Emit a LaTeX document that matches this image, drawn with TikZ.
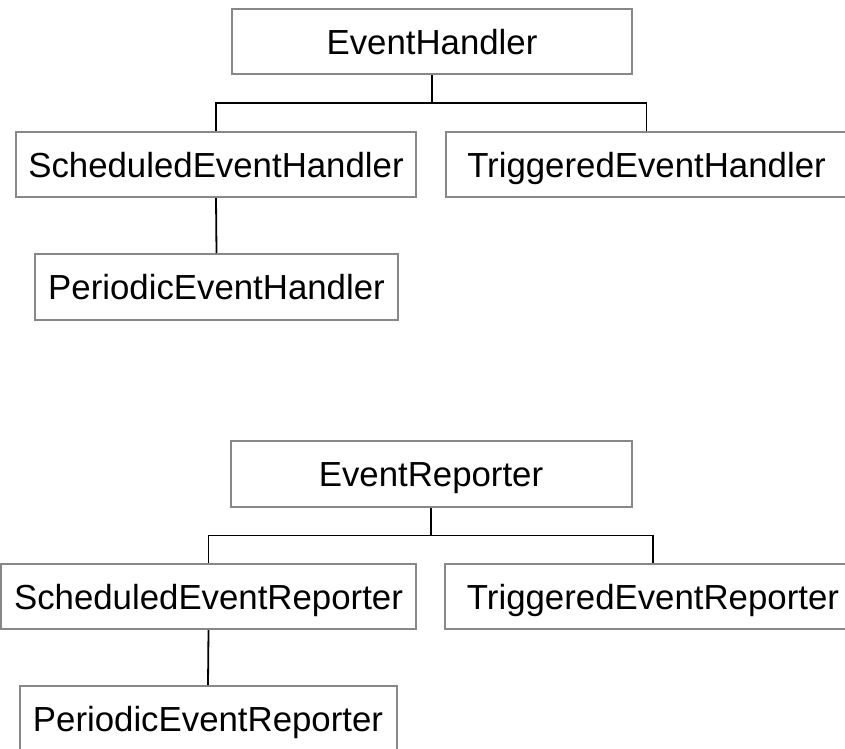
\documentclass[tikz,border=0pt]{standalone}
\usepackage{fontspec}
\setmainfont{Liberation Sans}
\definecolor{boxgray}{HTML}{888888}
\begin{document}
\begin{tikzpicture}[x=1pt,y=-1pt,
  classbox/.style={draw=boxgray, line width=2pt, inner sep=0pt,
    minimum height=65pt, text height=25pt, text depth=0pt,
    font=\fontsize{34.8pt}{40pt}\selectfont},
  link/.style={draw=black, line width=1.8pt}]
\useasboundingbox (0,0) rectangle (845,748);

% handler hierarchy
\node[classbox, minimum width=400pt] (eh)  at (432,41.5)   {EventHandler};
\node[classbox, minimum width=400pt] (seh) at (216,164.5)  {ScheduledEventHandler};
\node[classbox, minimum width=401pt] (teh) at (646.5,164.5){TriggeredEventHandler};
\node[classbox, minimum width=363pt, minimum height=66pt] (peh) at (216.5,287) {PeriodicEventHandler};

\coordinate (jh) at (432,103);
\draw[link] (eh.south) -- (jh);
\draw[link] (seh.north) |- (jh) -| (teh.north);
\draw[link] (seh.south) -- (peh.north);

% reporter hierarchy
\node[classbox, minimum width=401pt, minimum height=66pt] (er) at (431,474) {EventReporter};
\node[classbox, minimum width=415pt] (ser) at (208.5,596.5) {ScheduledEventReporter};
\node[classbox, minimum width=416pt] (ter) at (653,596.5)   {TriggeredEventReporter};
\node[classbox, minimum width=377pt] (per) at (208,718.5)   {PeriodicEventReporter};

\coordinate (jr) at (431,535.5);
\draw[link] (er.south) -- (jr);
\draw[link] (ser.north) |- (jr) -| (ter.north);
\draw[link] (ser.south) -- (per.north);
\end{tikzpicture}
\end{document}
